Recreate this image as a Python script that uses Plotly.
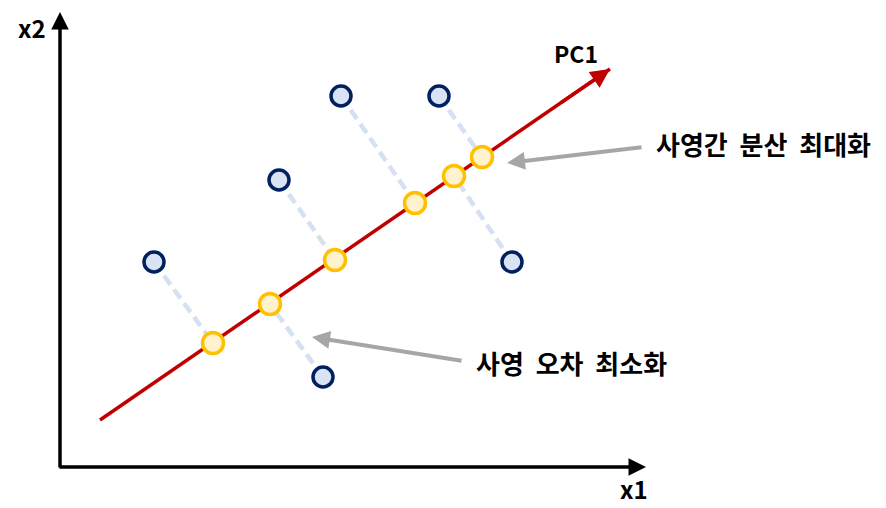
import plotly.graph_objects as go

# original samples (x1, x2)
orig_x1 = [9.4, 21.9, 28.1, 37.9, 26.3, 45.2]
orig_x2 = [20.5, 28.7, 37.1, 37.1, 9.0, 20.5]

# their projections on PC1, same order
proj_x1 = [15.3, 27.5, 35.5, 42.2, 21.0, 39.4]
proj_x2 = [12.4, 20.7, 26.4, 31.0, 16.3, 29.1]

# PC1 line: start and arrow tip
pc1_x1 = [4.0, 55.0]
pc1_x2 = [4.7, 39.8]

FONT = "Noto Sans CJK KR"
SP = "\u00a0\u00a0"
label_var = "사영간" + SP + "분산" + SP + "최대화"
label_err = "사영" + SP + "오차" + SP + "최소화"

fig = go.Figure()

# dashed projection lines
dx, dy = [], []
for a, b, c, d in zip(orig_x1, orig_x2, proj_x1, proj_x2):
    dx += [a, c, None]
    dy += [b, d, None]
fig.add_trace(go.Scatter(x=dx, y=dy, mode="lines",
                         line=dict(color="#D5E0F3", width=4.5, dash="11px,6px"),
                         hoverinfo="skip"))

# PC1 line
fig.add_trace(go.Scatter(x=pc1_x1, y=pc1_x2, mode="lines",
                         line=dict(color="#C00000", width=3.5), hoverinfo="skip"))

# samples
fig.add_trace(go.Scatter(x=orig_x1, y=orig_x2, mode="markers",
                         marker=dict(size=20, color="#DAE3F3",
                                     line=dict(color="#002060", width=3.5))))
# projections
fig.add_trace(go.Scatter(x=proj_x1, y=proj_x2, mode="markers",
                         marker=dict(size=21, color="#FFF2CC",
                                     line=dict(color="#FFC000", width=3.5))))

def arrow(x0, y0, x1, y1, color, width, size):
    fig.add_annotation(x=x1, y=y1, ax=x0, ay=y0, xref="x", yref="y",
                       axref="x", ayref="y", text="", showarrow=True,
                       arrowhead=2, arrowsize=size, arrowwidth=width,
                       arrowcolor=color)

# axes
arrow(0, -0.2, 0, 45.5, "black", 3.5, 1.0)
arrow(-0.2, 0, 58.6, 0, "black", 3.5, 1.0)
# PC1 head
arrow(50.0, 36.36, pc1_x1[1], pc1_x2[1], "#C00000", 3.5, 1.1)
# callouts
arrow(58.3, 32.0, 44.7, 30.4, "#A6A6A6", 4, 0.9)
arrow(40.3, 10.6, 25.2, 13.0, "#A6A6A6", 4, 0.9)

def label(x, y, text, size, anchor="center"):
    fig.add_annotation(x=x, y=y, xref="x", yref="y", text="<b>" + text + "</b>",
                       showarrow=False, xanchor=anchor, yanchor="middle",
                       font=dict(family=FONT, size=size, color="black"))

label(-2.8, 44.0, "x2", 24)
label(57.4, -2.1, "x1", 24)
label(51.6, 41.4, "PC1", 23)
label(59.4, 32.4, label_var, 26, "left")
label(41.4, 10.5, label_err, 26, "left")

# page body has an 8px margin, so the ranges are offset to compensate
fig.update_xaxes(range=[-5.2, 83.4], visible=False)
fig.update_yaxes(range=[-4.9, 45.9], visible=False)
fig.update_layout(width=886, height=508, autosize=False,
                  margin=dict(l=0, r=0, t=0, b=0),
                  plot_bgcolor="white", paper_bgcolor="white",
                  showlegend=False)

fig.write_html("out.html")
